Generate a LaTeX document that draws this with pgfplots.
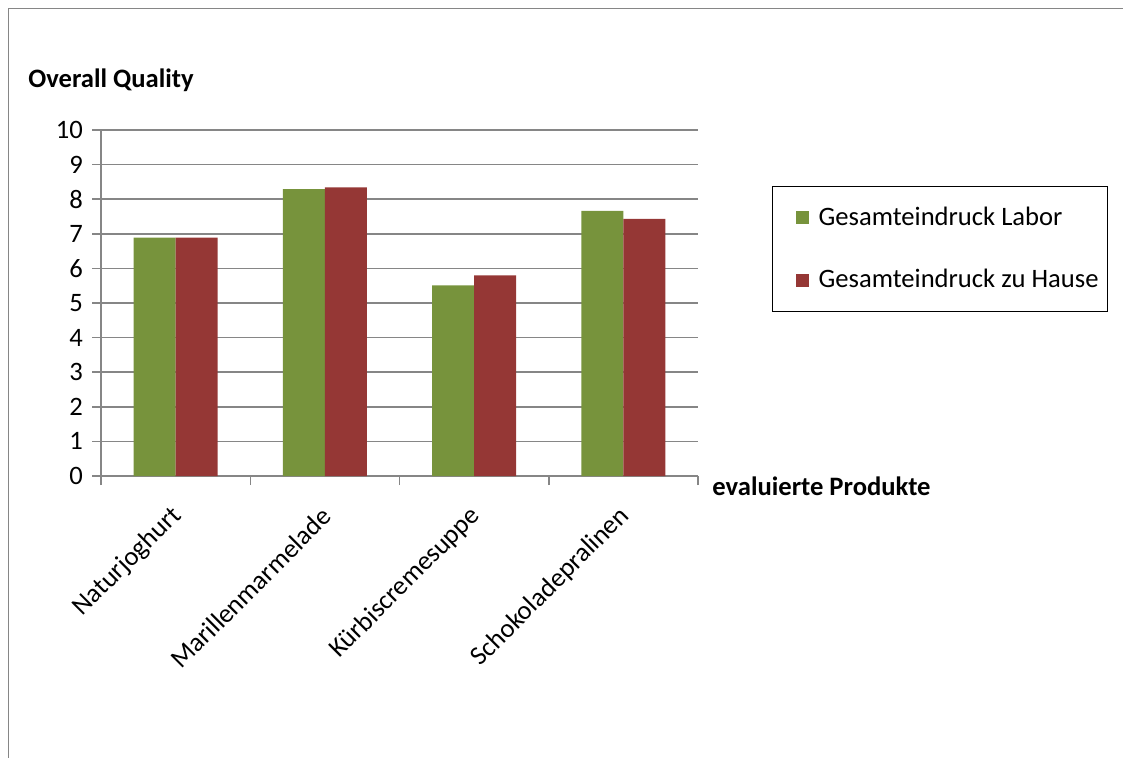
\documentclass[border=0pt]{standalone}
\usepackage{fontspec}
\setmainfont{Carlito}
\usepackage{pgfplots}
\pgfplotsset{compat=1.18}
\definecolor{cgreen}{HTML}{77933C}
\definecolor{cred}{HTML}{953735}
\definecolor{cgrid}{HTML}{868686}
\begin{document}
\fontsize{13.3}{16}\selectfont
\begin{tikzpicture}
\useasboundingbox (0pt,0pt) rectangle (561.5pt,-379pt);
\draw[cgrid, line width=0.75pt] (4.25pt,-379pt) -- (4.25pt,-4.25pt) -- (561.5pt,-4.25pt);
\begin{axis}[
  at={(50.5pt,-238pt)}, anchor=south west,
  scale only axis, width=298.5pt, height=173pt,
  ybar=0pt, bar width=21pt,
  ymin=0, ymax=10, ytick={0,1,...,10},
  xmin=-0.5, xmax=3.5,
  xtick={-0.5,0.5,1.5,2.5,3.5}, xticklabels={},
  extra x ticks={0,1,2,3},
  extra x tick labels={Naturjoghurt,Marillenmarmelade,Kürbiscremesuppe,Schokoladepralinen},
  extra x tick style={major tick length=0pt, grid=none,
     tick label style={xshift=2.5pt, yshift=-16.5pt, rotate=45, anchor=east, inner sep=2pt}},
  axis lines*=left,
  tick align=outside,
  ymajorgrids,
  grid style={cgrid, line width=0.75pt},
  axis line style={cgrid, line width=0.75pt},
  major tick style={cgrid, line width=0.75pt},
  major tick length=4.5pt,
  tick label style={font=\fontsize{13.3}{16}\selectfont, black},
  /pgf/number format/assume math mode=true,
  enlargelimits=false,
  clip=false,
  legend cell align=left,
  legend image code/.code={\path (0pt,0pt) (18.5pt,0pt); \fill[#1] (9pt,-3.25pt) rectangle (15.5pt,3.25pt);},
  legend style={at={(1.124,0.838)}, anchor=north west, draw=black, line width=0.6pt,
     font=\fontsize{13.3}{16}\selectfont, inner xsep=2.5pt, inner ysep=8pt,
     row sep=16pt},
]
\addplot[fill=cgreen, draw=none] coordinates {(0,6.89) (1,8.29) (2,5.51) (3,7.66)};
\addlegendentry{Gesamteindruck Labor}
\addplot[fill=cred, draw=none] coordinates {(0,6.89) (1,8.34) (2,5.80) (3,7.43)};
\addlegendentry{Gesamteindruck zu Hause}
\end{axis}
\node[anchor=west, inner sep=0pt, font=\fontsize{13.3}{16}\selectfont\bfseries] at (14pt,-40pt) {Overall Quality};
\node[anchor=west, inner sep=0pt, font=\fontsize{13.3}{16}\selectfont\bfseries] at (356pt,-243pt) {evaluierte Produkte};
\end{tikzpicture}
\end{document}
